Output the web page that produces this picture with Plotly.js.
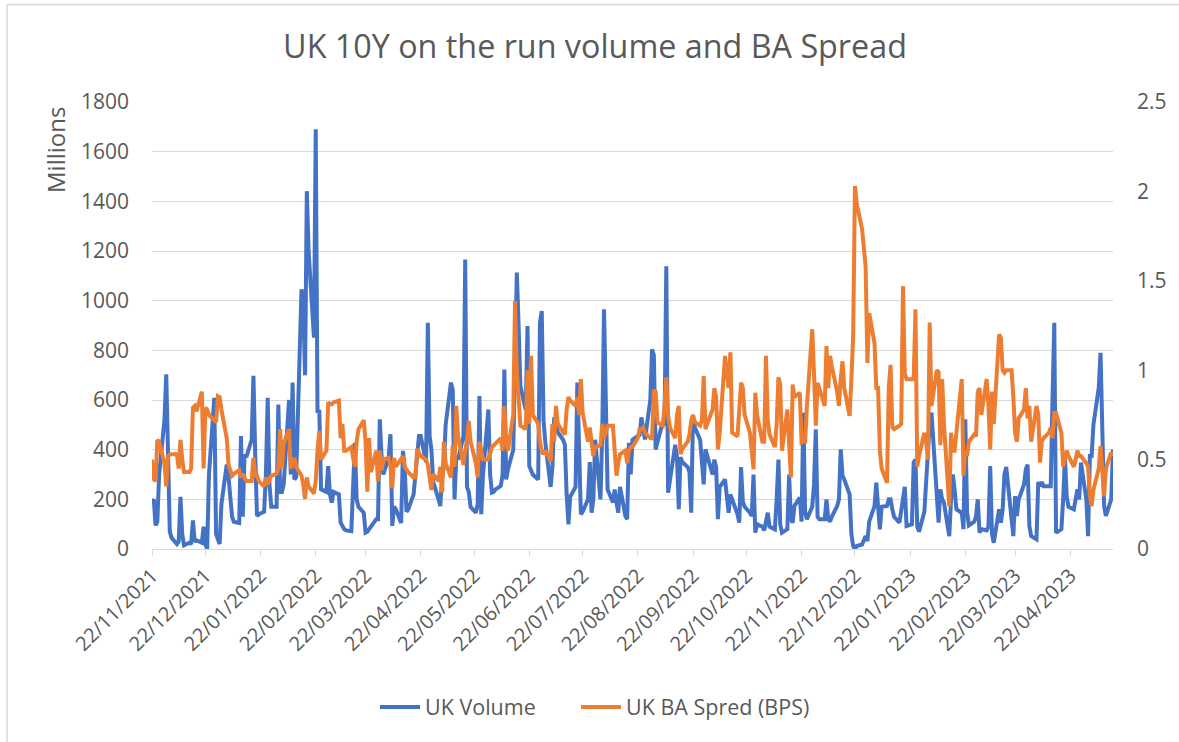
<!DOCTYPE html>
<html>
<head>
<meta charset="utf-8">
<script src="https://cdn.plot.ly/plotly-3.0.1.min.js"></script>
<style>
  html, body { margin: 0; padding: 0; background: #ffffff; }
  #chart { width: 1179px; height: 742px; }
</style>
</head>
<body>
<div id="chart"></div>
<script>
// ---- Data ----
const startDate = '2021-11-22'; // first trading day shown; one value per weekday after it

const ukVolume = [
  187, 200, 95, 110, 300, 520, 703, 380, 70, 45,
  20, 30, 210, 60, 15, 25, 20, 115, 30, 35,
  25, 90, 20, 0, 300, 609, 60, 40, 20, 180,
  340, 290, 190, 130, 110, 105, 455, 130, 380, 370,
  440, 697, 380, 133, 140, 150, 300, 609, 260, 170,
  170, 582, 230, 230, 260, 600, 300, 670, 280, 290,
  1046, 1000, 700, 1441, 1200, 851, 1690, 549, 560, 240,
  230, 334, 220, 187, 230, 220, 106, 90, 80, 75,
  72, 250, 428, 200, 170, 146, 66, 70, 80, 90,
  120, 120, 522, 370, 300, 370, 462, 93, 170, 160,
  105, 395, 330, 150, 160, 220, 300, 390, 455, 455,
  350, 911, 455, 400, 270, 200, 173, 290, 330, 500,
  670, 640, 200, 370, 360, 455, 1166, 250, 230, 170,
  146, 180, 616, 140, 300, 562, 300, 227, 230, 240,
  254, 300, 723, 280, 320, 400, 700, 1113, 900, 656,
  560, 898, 334, 320, 300, 280, 911, 958, 520, 430,
  250, 330, 530, 510, 470, 440, 420, 220, 99, 210,
  250, 670, 330, 140, 150, 200, 350, 146, 200, 440,
  200, 470, 965, 500, 240, 187, 240, 187, 146, 250,
  133, 120, 428, 300, 440, 455, 460, 530, 490, 441,
  600, 804, 780, 401, 430, 510, 500, 1139, 227, 270,
  420, 370, 160, 370, 350, 330, 310, 146, 535, 490,
  440, 350, 260, 401, 374, 300, 360, 330, 120, 250,
  280, 190, 146, 220, 200, 140, 106, 330, 190, 170,
  146, 133, 300, 66, 100, 90, 75, 120, 146, 90,
  79, 200, 360, 100, 66, 80, 300, 120, 106, 173,
  207, 110, 549, 150, 120, 170, 260, 482, 130, 120,
  120, 200, 120, 110, 130, 173, 200, 401, 295, 280,
  220, 60, 12, 0, 12, 18, 32, 52, 32, 110,
  173, 267, 170, 79, 170, 173, 200, 200, 160, 130,
  106, 160, 220, 250, 93, 100, 348, 360, 90, 70,
  150, 267, 440, 510, 549, 240, 106, 240, 200, 187,
  52, 200, 300, 240, 160, 146, 80, 522, 150, 95,
  110, 130, 200, 66, 80, 75, 90, 334, 60, 25,
  160, 106, 160, 300, 330, 120, 52, 213, 133, 200,
  260, 320, 340, 93, 52, 39, 270, 253, 270, 253,
  253, 253, 600, 911, 66, 80, 200, 370, 210, 170,
  160, 200, 240, 200, 348, 200, 52, 374, 374, 500,
  650, 790, 400, 173, 133, 200, 401
];

const ukBASpread = [
  0.50, 0.39, 0.38, 0.61, 0.60, 0.48, 0.35, 0.52, 0.53, 0.53,
  0.53, 0.45, 0.61, 0.50, 0.43, 0.43, 0.45, 0.79, 0.80, 0.77,
  0.88, 0.45, 0.79, 0.78, 0.75, 0.72, 0.71, 0.855, 0.85, 0.78,
  0.62, 0.47, 0.43, 0.41, 0.42, 0.44, 0.40, 0.42, 0.40, 0.38,
  0.38, 0.51, 0.41, 0.41, 0.38, 0.35, 0.40, 0.36, 0.39, 0.41,
  0.42, 0.45, 0.67, 0.45, 0.59, 0.67, 0.45, 0.48, 0.51, 0.46,
  0.41, 0.36, 0.28, 0.40, 0.35, 0.31, 0.38, 0.55, 0.66, 0.50,
  0.55, 0.82, 0.81, 0.81, 0.82, 0.83, 0.62, 0.70, 0.55, 0.55,
  0.57, 0.51, 0.46, 0.60, 0.67, 0.72, 0.60, 0.32, 0.62, 0.43,
  0.55, 0.38, 0.55, 0.44, 0.50, 0.51, 0.46, 0.34, 0.51, 0.46,
  0.51, 0.52, 0.46, 0.44, 0.43, 0.40, 0.40, 0.56, 0.54, 0.52,
  0.50, 0.47, 0.40, 0.33, 0.42, 0.38, 0.46, 0.315, 0.60, 0.48,
  0.40, 0.58, 0.46, 0.80, 0.63, 0.47, 0.55, 0.60, 0.716, 0.60,
  0.48, 0.40, 0.60, 0.55, 0.50, 0.50, 0.53, 0.57, 0.58, 0.59,
  0.62, 0.55, 0.80, 0.60, 0.55, 0.75, 1.387, 1.00, 0.86, 0.69,
  0.67, 1.00, 0.70, 1.08, 0.75, 0.70, 0.60, 0.55, 0.53, 0.55,
  0.49, 0.70, 0.60, 0.80, 0.70, 0.65, 0.64, 0.78, 0.85, 0.83,
  0.80, 0.85, 0.75, 0.95, 0.76, 0.60, 0.68, 0.60, 0.52, 0.57,
  0.58, 0.70, 0.62, 0.65, 0.69, 0.69, 0.55, 0.41, 0.48, 0.53,
  0.55, 0.48, 0.55, 0.57, 0.57, 0.62, 0.67, 0.67, 0.68, 0.65,
  0.62, 0.62, 0.89, 0.88, 0.71, 0.69, 0.80, 0.96, 0.75, 0.68,
  0.62, 0.75, 0.80, 0.53, 0.56, 0.60, 0.64, 0.72, 0.75, 0.71,
  0.69, 0.72, 0.967, 0.67, 0.70, 0.78, 0.90, 0.85, 0.557, 0.65,
  1.08, 1.00, 0.90, 1.10, 0.65, 0.63, 0.75, 0.93, 0.90, 0.75,
  0.65, 0.57, 0.446, 0.874, 0.75, 0.60, 0.60, 1.08, 0.72, 0.64,
  0.57, 0.70, 0.96, 0.92, 0.55, 0.78, 0.60, 0.40, 0.92, 0.85,
  0.874, 0.595, 0.60, 0.60, 0.80, 1.229, 0.98, 0.69, 0.93, 0.90,
  0.80, 1.135, 0.90, 1.08, 1.02, 0.88, 0.80, 0.95, 1.05, 0.90,
  0.744, 0.95, 1.191, 2.03, 1.93, 1.79, 1.67, 1.58, 1.04, 1.32,
  1.15, 0.90, 0.90, 0.55, 0.45, 0.37, 0.90, 1.03, 0.68, 0.67,
  0.69, 0.70, 1.47, 0.98, 0.95, 0.95, 0.95, 1.34, 0.46, 0.52,
  0.65, 0.60, 0.50, 1.266, 0.80, 1.00, 0.99, 0.58, 0.95, 0.70,
  0.24, 0.65, 0.55, 0.55, 0.65, 0.95, 0.41, 0.55, 0.52, 0.60,
  0.64, 0.63, 0.88, 0.90, 0.75, 0.95, 0.80, 0.557, 0.88, 0.70,
  1.20, 1.18, 1.00, 0.986, 1.00, 1.00, 0.85, 0.65, 0.60, 0.73,
  0.78, 0.90, 0.73, 0.80, 0.60, 0.80, 0.75, 0.483, 0.60, 0.62,
  0.65, 0.68, 0.62, 0.76, 0.76, 0.65, 0.46, 0.50, 0.55, 0.52,
  0.46, 0.50, 0.55, 0.52, 0.52, 0.48, 0.46, 0.30, 0.24, 0.33,
  0.45, 0.575, 0.44, 0.296, 0.45, 0.54, 0.52
];

const tickLabels = [
  '22/11/2021', '22/12/2021', '22/01/2022', '22/02/2022', '22/03/2022', '22/04/2022',
  '22/05/2022', '22/06/2022', '22/07/2022', '22/08/2022', '22/09/2022', '22/10/2022',
  '22/11/2022', '22/12/2022', '22/01/2023', '22/02/2023', '22/03/2023', '22/04/2023'
];

const seriesNames = ['UK Volume', 'UK BA Spred (BPS)'];
const chartTitle = 'UK 10Y on the run volume and BA Spread';
const leftAxisTitle = 'Millions';

// ---- Build x values (weekdays from startDate) ----
function weekdayDates(start, n) {
  const out = [];
  const d = new Date(start + 'T00:00:00Z');
  while (out.length < n) {
    const w = d.getUTCDay();
    if (w !== 0 && w !== 6) out.push(d.toISOString().slice(0, 10));
    d.setUTCDate(d.getUTCDate() + 1);
  }
  return out;
}
const n = Math.max(ukVolume.length, ukBASpread.length);
const dates = weekdayDates(startDate, n);
const tickVals = tickLabels.map(function (s) {
  const p = s.split('/');
  return p[2] + '-' + p[1] + '-' + p[0];
});

// ---- Plot ----
const textColor = '#595959';
const gridColor = '#d9d9d9';
const fontFamily = '"Open Sans", "Noto Sans", sans-serif';

// plot area in pixels (from the reference)
const W = 1179, H = 742, L = 152, R = 1113, T = 102, B = 549;
const pw = R - L, ph = B - T;
const px = function (x) { return (x - L) / pw; };
const py = function (y) { return (B - y) / ph; };

const traces = [
  {
    x: dates.slice(0, ukVolume.length), y: ukVolume, name: seriesNames[0],
    type: 'scatter', mode: 'lines', yaxis: 'y', legend: 'legend',
    line: { color: '#4472C4', width: 4 }
  },
  {
    x: dates.slice(0, ukBASpread.length), y: ukBASpread, name: seriesNames[1],
    type: 'scatter', mode: 'lines', yaxis: 'y2', legend: 'legend2',
    line: { color: '#ED7D31', width: 4 }
  }
];

const legendStyle = function (xpix) {
  return {
    orientation: 'h', x: px(xpix), y: py(707), xanchor: 'left', yanchor: 'middle',
    font: { family: fontFamily, size: 21.5, color: textColor },
    bgcolor: 'rgba(0,0,0,0)', itemwidth: 40
  };
};

const layout = {
  width: W, height: H,
  paper_bgcolor: '#ffffff', plot_bgcolor: '#ffffff',
  margin: { l: L, r: W - R, t: T, b: H - B, autoexpand: false },
  font: { family: fontFamily, color: textColor, size: 20 },
  title: {
    text: chartTitle,
    font: { family: fontFamily, size: 32.3, color: textColor },
    xref: 'container', yref: 'container',
    x: 595 / W, y: 1 - 47 / H, xanchor: 'center', yanchor: 'middle'
  },
  showlegend: true,
  legend: legendStyle(375),
  legend2: legendStyle(576),
  xaxis: {
    type: 'date',
    range: [dates[0], dates[n - 1]],
    tickmode: 'array', tickvals: tickVals, ticktext: tickLabels,
    tickangle: -45,
    tickfont: { family: fontFamily, size: 20, color: textColor },
    ticks: 'outside', ticklen: 6, tickcolor: gridColor, tickwidth: 1,
    showline: true, linecolor: gridColor, linewidth: 1,
    showgrid: false, zeroline: false
  },
  yaxis: {
    range: [0, 1800], dtick: 200, tick0: 0,
    tickfont: { family: fontFamily, size: 21, color: textColor },
    showgrid: true, gridcolor: gridColor, gridwidth: 1,
    zeroline: false, showline: false, ticks: '',
    ticklabelstandoff: 22
  },
  yaxis2: {
    range: [0, 2.5], dtick: 0.5, tick0: 0,
    overlaying: 'y', side: 'right',
    tickfont: { family: fontFamily, size: 21, color: textColor },
    showgrid: false, zeroline: false, showline: false, ticks: '',
    ticklabelstandoff: 23
  },
  annotations: [
    {
      text: leftAxisTitle, xref: 'paper', yref: 'paper',
      x: px(56), y: py(150), xanchor: 'center', yanchor: 'middle',
      textangle: -90, showarrow: false,
      font: { family: fontFamily, size: 24, color: textColor }
    }
  ],
  shapes: [
    { type: 'line', xref: 'paper', yref: 'paper', x0: px(7), x1: px(7), y0: py(900), y1: py(4.5),
      line: { color: gridColor, width: 1.5 }, layer: 'below' },
    { type: 'line', xref: 'paper', yref: 'paper', x0: px(7), x1: px(1300), y0: py(4.5), y1: py(4.5),
      line: { color: gridColor, width: 1.5 }, layer: 'below' }
  ]
};

Plotly.newPlot('chart', traces, layout, { staticPlot: true, displayModeBar: false });
</script>
</body>
</html>
